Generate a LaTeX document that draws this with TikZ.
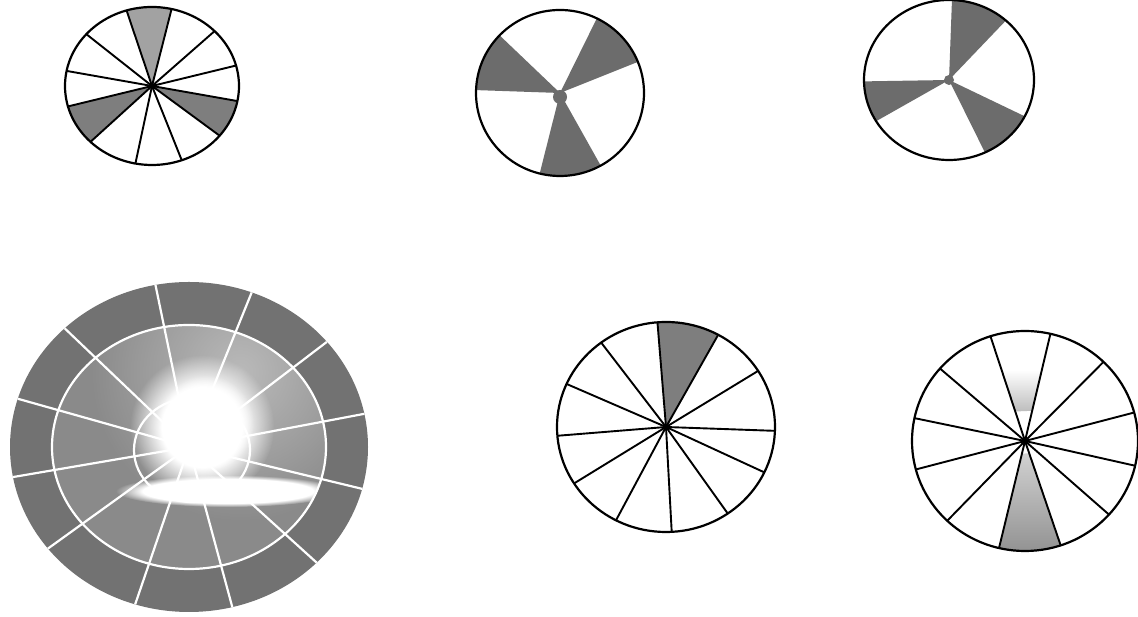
\documentclass[tikz,border=0pt]{standalone}
\usetikzlibrary{calc,fadings}
\definecolor{gdark}{HTML}{6C6C6C}
\definecolor{gmid}{HTML}{7E7E7E}
\definecolor{glight}{HTML}{A2A2A2}
\definecolor{gpale}{HTML}{BDBDBD}
\definecolor{gring}{HTML}{727272}
\definecolor{ginner}{HTML}{8A8A8A}
\definecolor{ghaze}{HTML}{BABABA}
\tikzfading[name=softblob, inner color=transparent!0, outer color=transparent!100]
\pgfdeclareradialshading{softsh}{\pgfpoint{0bp}{0bp}}{color(0bp)=(white); color(14bp)=(white); color(25bp)=(black); color(50bp)=(black)}
\pgfdeclarefading{softcore}{\pgfuseshading{softsh}}
\pgfdeclareradialshading{softshw}{\pgfpoint{0bp}{0bp}}{color(0bp)=(white); color(19bp)=(white); color(25bp)=(black); color(50bp)=(black)}
\pgfdeclarefading{softwide}{\pgfuseshading{softshw}}
\newcommand\mywedge[6]{\fill[#1] (#2) -- ++(#3:#5 and #6) arc[start angle=#3, end angle=#4, x radius=#5, y radius=#6] -- cycle;}
\tikzset{
  rim/.style={line width=2.2pt, black},
  spoke/.style={line width=1.9pt, black},
  wline/.style={white, line width=2.2pt}
}
\begin{document}
\begin{tikzpicture}[x=1pt,y=1pt]
\useasboundingbox (0,0) rectangle (1138,617);
\fill[white] (0,0) rectangle (1138,617);

% ---- circle 1 (top left)
\coordinate (c1) at (152,531);
\mywedge{glight}{c1}{77}{107}{87pt}{79pt}
\mywedge{gmid}{c1}{195}{225}{87pt}{79pt}
\mywedge{gmid}{c1}{321}{349}{87pt}{79pt}
\foreach \a in {15,44,77,107,139,169,195,225,259,290,321,349}
  \draw[spoke] (c1) -- ++(\a:87pt and 79pt);
\draw[rim] (c1) ellipse [x radius=87pt, y radius=79pt];

% ---- circle 2 (top middle)
\coordinate (c2) at (560,524);
\mywedge{gdark}{c2}{136}{178}{84pt}{83pt}
\mywedge{gdark}{c2}{22}{64}{84pt}{83pt}
\mywedge{gdark}{c2}{256}{299}{84pt}{83pt}
\fill[gdark] ($(c2)+(0,-4)$) circle [radius=7pt];
\draw[rim] (c2) ellipse [x radius=84pt, y radius=83pt];

% ---- circle 3 (top right)
\coordinate (c3) at (949,537);
\mywedge{gdark}{c3}{48}{88}{85pt}{80pt}
\mywedge{gdark}{c3}{181}{211}{85pt}{80pt}
\mywedge{gdark}{c3}{295}{333}{85pt}{80pt}
\fill[gdark] (c3) circle [radius=5pt];
\draw[rim] (c3) ellipse [x radius=85pt, y radius=80pt];

% ---- circle 4 (big, bottom left)
\coordinate (c4) at (189,170);
\coordinate (c4b) at (202,190);
\fill[gring] (c4) ellipse [x radius=179pt, y radius=165pt];
\fill[ginner] (c4) ellipse [x radius=137pt, y radius=122pt];
\begin{scope}
  \clip (c4) ellipse [x radius=137pt, y radius=122pt];
  \fill[ghaze, path fading=softblob] (240,245) circle [radius=150pt];
  \fill[white, path fading=softcore] (c4b) circle [radius=72pt];
  \fill[white, path fading=softwide] (228,126) ellipse [x radius=112pt, y radius=16pt];
\end{scope}
\draw[wline] (c4) ellipse [x radius=137pt, y radius=122pt];
\draw[wline] ($(c4)+(3,-3)$) ellipse [x radius=58pt, y radius=52pt];
\foreach \a in {100.8,69.5,39.6,11.6,345.3,315.5,284,252.5,218,190.5,163,134}
  \draw[wline] (c4) -- ++(\a:179pt and 165pt);
\fill[white, path fading=softcore] ($(c4b)+(4,4)$) circle [radius=48pt];

% ---- circle 5 (bottom middle)
\coordinate (c5) at (666,190);
\mywedge{gmid}{c5}{61.4}{94.5}{109pt}{105pt}
\foreach \a in {94.5,61.4,32.3,357.9,334.4,304.5,273,242.7,212.5,184.8,155.8,126.5}
  \draw[spoke] (c5) -- ++(\a:109pt and 105pt);
\draw[rim] (c5) ellipse [x radius=109pt, y radius=105pt];

% ---- circle 6 (bottom right)
\coordinate (c6) at (1025,176);
\shade[top color=gpale!70!white, bottom color=glight!90!black]
  ($(c6)+(256.7:14pt and 13pt)$) -- ($(c6)+(256.7:113pt and 110pt)$)
  arc[start angle=256.7, end angle=288.4, x radius=113pt, y radius=110pt]
  -- ($(c6)+(288.4:14pt and 13pt)$) -- cycle;
\shade[top color=white, bottom color=gpale]
  ($(c6)+(77:32pt and 31pt)$) -- ($(c6)+(77:75pt and 73pt)$)
  -- ($(c6)+(107.8:75pt and 73pt)$) -- ($(c6)+(107.8:32pt and 31pt)$) -- cycle;
\foreach \a in {107.8,77,46,15,347,318,288.4,256.7,226.5,195,168,138.8}
  \draw[spoke] (c6) -- ++(\a:113pt and 110pt);
\draw[rim] (c6) ellipse [x radius=113pt, y radius=110pt];
\end{tikzpicture}
\end{document}
